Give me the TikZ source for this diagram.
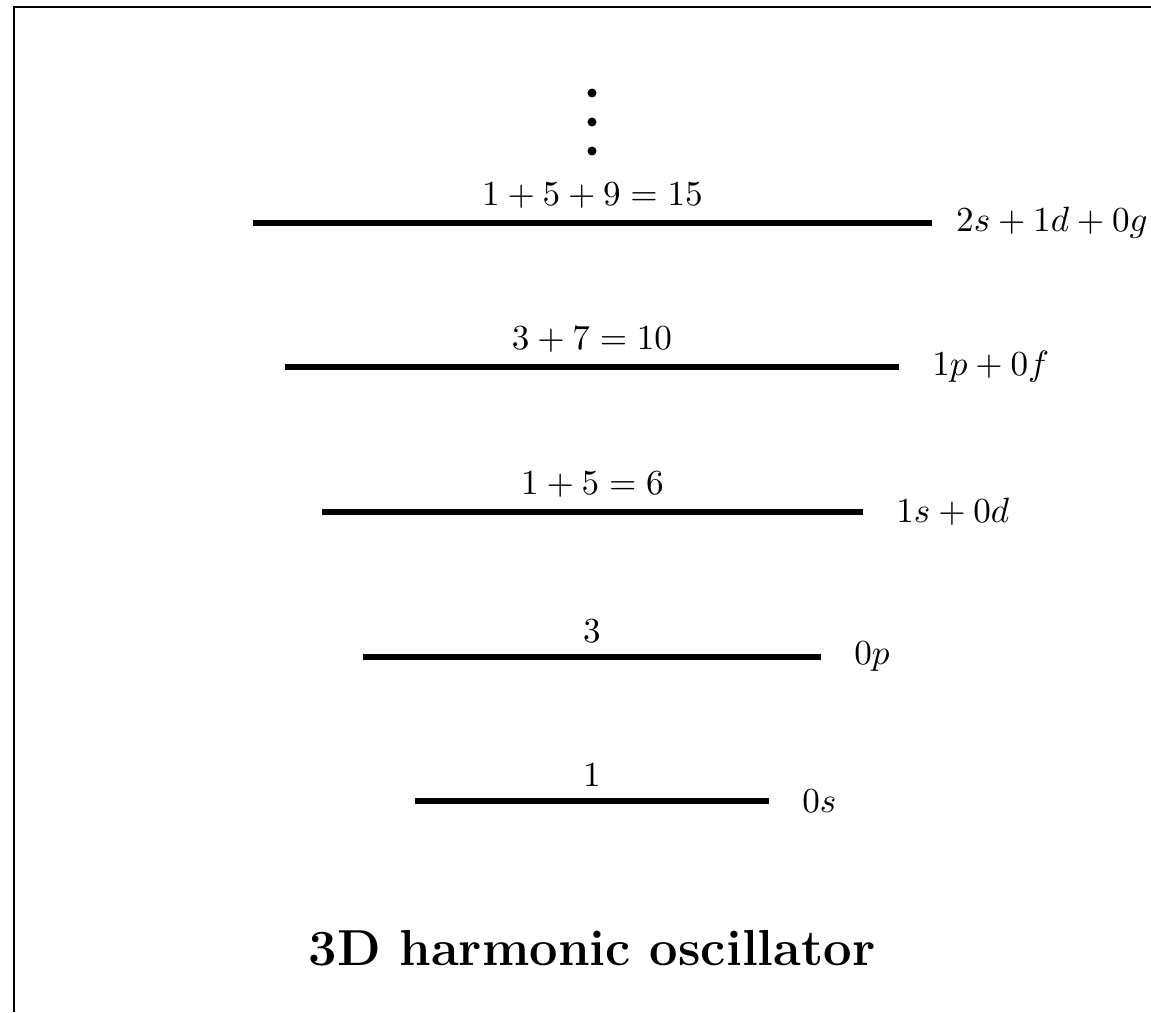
\documentclass[tikz,border=0pt]{standalone}
\usepackage{tikz}
\usetikzlibrary{positioning}
\usepackage{amsmath}

\begin{document}
\begin{tikzpicture}[
    level/.style={line width=1.6pt},
    shell/.style={right=0.21cm of #1}
  ]
        \useasboundingbox (-5.92,-2.11) rectangle (5.59,8.01);
        \draw[line width=0.8pt] (-5.78,-2.11) -- (-5.78,7.94) -- (5.59,7.94);

        \coordinate (L0) at (-1.77,0);    \coordinate (R0) at (1.77,0);
        \coordinate (L1) at (-2.29,1.44); \coordinate (R1) at (2.29,1.44);
        \coordinate (L2) at (-2.70,2.89); \coordinate (R2) at (2.71,2.89);
        \coordinate (L3) at (-3.07,4.34); \coordinate (R3) at (3.07,4.34);
        \coordinate (L4) at (-3.39,5.78); \coordinate (R4) at (3.40,5.78);

        \draw[level] (L0) -- (R0) node[midway,above] (N0) {$1$};
        \draw[level] (L1) -- (R1) node[midway,above] (N1) {$3$};
        \draw[level] (L2) -- (R2) node[midway,above] (N2) {$1+5=6$};
        \draw[level] (L3) -- (R3) node[midway,above] (N3) {$3+7=10$};
        \draw[level] (L4) -- (R4) node[midway,above] (N4) {$1+5+9=15$};

        \node[shell=R0] (S0) {$0s$};
        \node[shell=R1] (S1) {$0p$};
        \node[shell=R2] (S2) {$1s+0d$};
        \node[shell=R3] (S3) {$1p+0f$};
        \node[right=0.2cm of R4, inner sep=1pt] (S4) {$2s+1d+0g$};

        \fill (0,6.50) circle (0.045);
        \fill (0,6.79) circle (0.045);
        \fill (0,7.08) circle (0.045);

        \node (title) at (0,-1.47) {\Large\bfseries 3D harmonic oscillator};
    \end{tikzpicture}
\end{document}
